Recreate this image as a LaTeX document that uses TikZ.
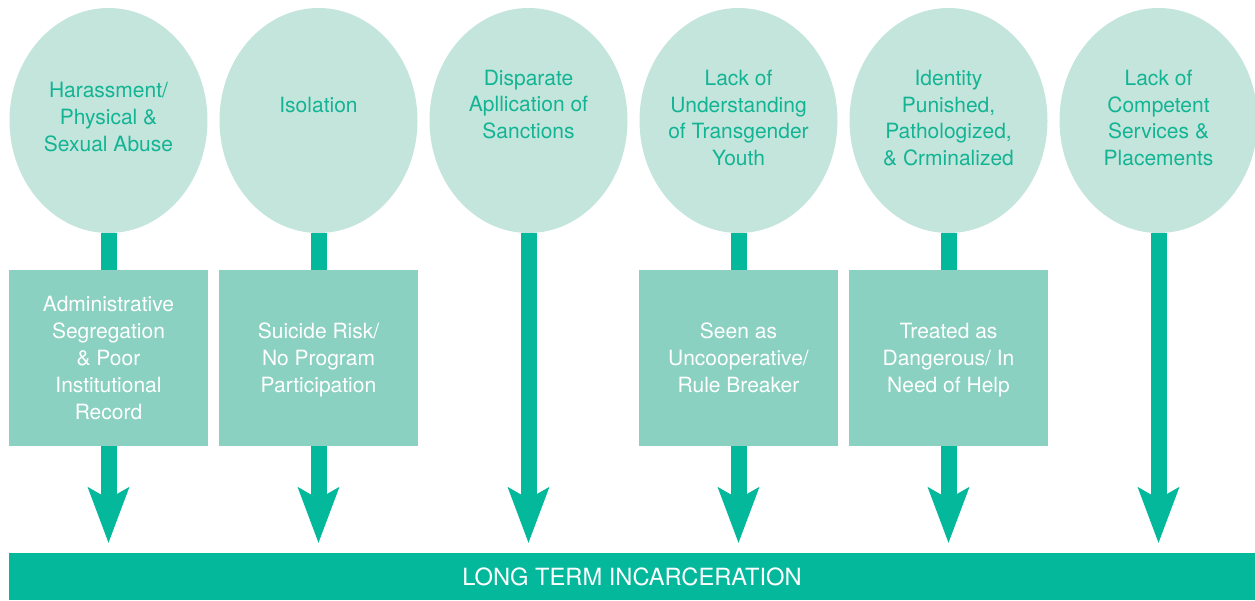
\documentclass[tikz,border=0pt]{standalone}
\usepackage{fontspec}
\setmainfont{TeX Gyre Heros}
\usetikzlibrary{shapes.geometric,arrows.meta,backgrounds}

\definecolor{darkmint}{HTML}{04B89C}
\definecolor{textmint}{HTML}{12B494}
\definecolor{midmint}{HTML}{8AD1C1}
\definecolor{palemint}{HTML}{C4E5DC}

\begin{document}
\begin{tikzpicture}[x=1pt,y=-1pt,
   cause/.style={ellipse,fill=palemint,minimum width=198pt,minimum height=225pt,inner sep=0pt},
   effect/.style={fill=midmint,minimum width=199pt,minimum height=176pt,inner sep=0pt},
   ctext/.style={text=textmint,align=center,font=\fontsize{21}{26.7}\selectfont},
   etext/.style={text=white,align=center,text depth=0pt,font=\fontsize{21}{26.9}\selectfont}]

\tikzstyle {flow} = [-{Stealth[length=56pt,width=42pt,inset=12pt,line width=0pt]},
   line width=16pt, draw=darkmint, shorten >=10pt];

\useasboundingbox (0,0) rectangle (1255,600);

% causes
\node[cause] (c1) at (108.5,120.5) {};
\node[cause] (c2) at (318.5,120.5) {};
\node[cause] (c3) at (528.5,120.5) {};
\node[cause] (c4) at (738.5,120.5) {};
\node[cause] (c5) at (948.5,120.5) {};
\node[cause] (c6) at (1158.5,120.5) {};

\node[ctext] (t1) at (108.5,117) {Harassment/\\Physical \&\\Sexual Abuse};
\node[ctext] (t2) at (318.5,105) {Isolation};
\node[ctext] (t3) at (528.5,104.5) {Disparate\\Apllication of\\Sanctions};
\node[ctext] (t4) at (738.5,118) {Lack of\\Understanding\\of Transgender\\Youth};
\node[ctext] (t5) at (948.5,118) {Identity\\Punished,\\Pathologized,\\\& Crminalized};
\node[ctext] (t6) at (1158.5,118) {Lack of\\Competent\\Services \&\\Placements};

% effects
\node[effect,etext] (b1) at (108.5,358) {Administrative\\Segregation\\\& Poor\\Institutional\\Record};
\node[effect,etext] (b2) at (318.5,358) {Suicide Risk/\\No Program\\Participation};
\node[effect,etext] (b4) at (738.5,358) {Seen as\\Uncooperative/\\Rule Breaker};
\node[effect,etext] (b5) at (948.5,358) {Treated as\\Dangerous/ In\\Need of Help};

\node[fill=darkmint,minimum width=1246pt,minimum height=47pt,inner sep=0pt,
   text=white,font=\fontsize{23.7}{28}\selectfont] (bar) at (632,576.5) {LONG TERM INCARCERATION};

\begin{scope}[on background layer]
\path (c1) edge [flow] (c1 |- bar.north);
\path (c2) edge [flow] (c2 |- bar.north);
\path (c3) edge [flow] (c3 |- bar.north);
\path (c4) edge [flow] (c4 |- bar.north);
\path (c5) edge [flow] (c5 |- bar.north);
\path (c6) edge [flow] (c6 |- bar.north);
\end{scope}

\end{tikzpicture}
\end{document}
